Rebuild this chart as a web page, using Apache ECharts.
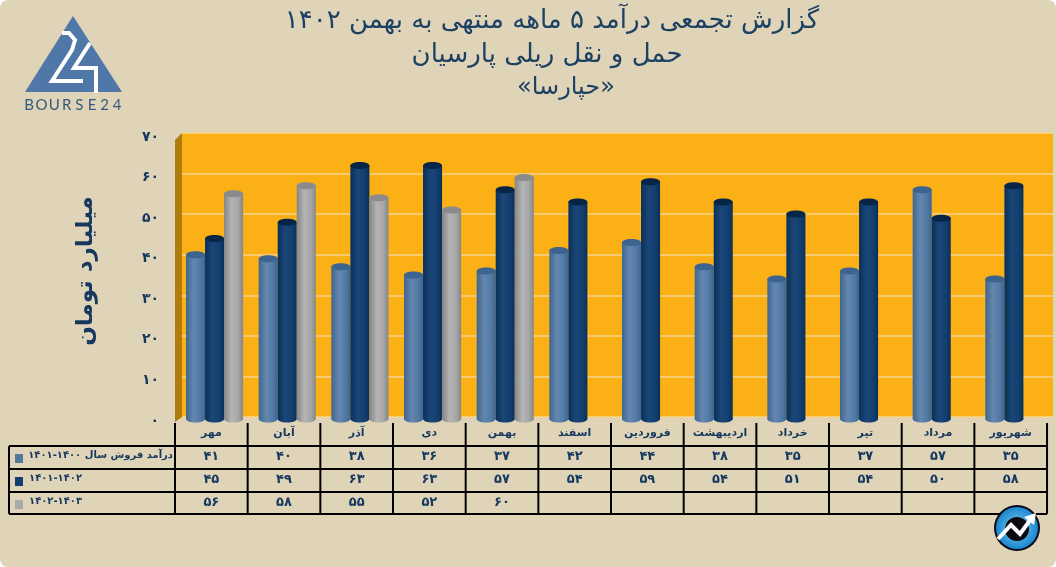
<!DOCTYPE html>
<html>
<head>
<meta charset="utf-8">
<script src="https://cdn.jsdelivr.net/npm/echarts@6/dist/echarts.min.js"></script>
<style>
  html, body { margin: 0; padding: 0; background: #fff; }
  #chart { width: 1056px; height: 567px; border-radius: 8px; overflow: hidden; }
</style>
</head>
<body>
<div id="chart"></div>
<script>
var months = ['مهر', 'آبان', 'آذر', 'دی', 'بهمن', 'اسفند', 'فروردین', 'اردیبهشت', 'خرداد', 'تیر', 'مرداد', 'شهریور']
var sales1400 = [41, 40, 38, 36, 37, 42, 44, 38, 35, 37, 57, 35]
var sales1401 = [45, 49, 63, 63, 57, 54, 59, 54, 51, 54, 50, 58]
var sales1402 = [56, 58, 55, 52, 60, null, null, null, null, null, null, null]
var rowLabels = ['درآمد فروش سال ۱۴۰۰-۱۴۰۱', '۱۴۰۱-۱۴۰۲', '۱۴۰۲-۱۴۰۳']
var titleLines = ['گزارش تجمعی درآمد ۵ ماهه منتهی به بهمن ۱۴۰۲', 'حمل و نقل ریلی پارسیان', '«حپارسا»']
var unitName = 'میلیارد تومان'
var logoLetters = ['B', 'O', 'U', 'R', 'S', 'E', '2', '4']

var FONT = '"DejaVu Sans"'
var TEXT = '#16385f'
var seriesRows = [sales1400, sales1401, sales1402]
var swatches = ['#54799f', '#123f6f', '#a9a9a9']

function fa(n) {
  return String(n).replace(/\d/g, function (d) { return '۰۱۲۳۴۵۶۷۸۹'[d] })
}

function tube(dark, mid, light) {
  return new echarts.graphic.LinearGradient(0, 0, 1, 0, [
    { offset: 0, color: dark },
    { offset: 0.4, color: light },
    { offset: 0.75, color: mid },
    { offset: 1, color: dark }
  ])
}

// cylinder drawn from the axis scale, slot = position inside the month band
function cylinder(slot, body, cap) {
  return function (params, api) {
    var v = api.value(1)
    if (isNaN(v)) return
    var base = api.coord([api.value(0), 0])
    var top = api.coord([api.value(0), v])
    var band = api.size([1, 0])[0]
    var w = band * 0.262
    var x = base[0] - band / 2 + 11 + slot * w
    var ry = 3.5
    return {
      type: 'group',
      children: [
        { type: 'ellipse', shape: { cx: x + w / 2, cy: base[1] - 2, rx: w / 2, ry: ry }, style: { fill: body } },
        { type: 'rect', shape: { x: x, y: top[1], width: w, height: base[1] - top[1] - 2 }, style: { fill: body } },
        { type: 'ellipse', shape: { cx: x + w / 2, cy: top[1], rx: w / 2, ry: ry }, style: { fill: cap } }
      ]
    }
  }
}

function barSeries(name, values, slot, body, cap) {
  return {
    name: name,
    type: 'custom',
    xAxisIndex: 0,
    yAxisIndex: 0,
    encode: { x: 0, y: 1 },
    data: values.map(function (v, i) { return [i, v == null ? NaN : v] }),
    renderItem: cylinder(slot, body, cap),
    z: 3
  }
}

// table under the plot, columns follow the month band
var tableLeft = 9, colStart = 175, colW = 72.67, rowTops = [446, 469, 492, 514], headTop = 423
var tableRight = colStart + colW * months.length
var table = []
function line(x1, y1, x2, y2) {
  table.push({ type: 'line', shape: { x1: x1, y1: y1, x2: x2, y2: y2 }, style: { stroke: '#000', lineWidth: 2 }, z: 5 })
}
rowTops.forEach(function (y) { line(tableLeft, y, tableRight, y) })
line(tableLeft, rowTops[0], tableLeft, rowTops[3])
for (var c = 0; c <= months.length; c++) {
  line(colStart + c * colW, headTop, colStart + c * colW, rowTops[3])
}
seriesRows.forEach(function (row, r) {
  var cy = rowTops[r] + 10
  table.push({ type: 'rect', shape: { x: 15, y: rowTops[r] + 8, width: 8, height: 9 }, style: { fill: swatches[r] }, z: 5 })
  table.push({
    type: 'text', z: 5,
    style: { x: r > 0 ? 82 : 173, y: cy - 1, text: rowLabels[r], font: 'bold 10px ' + FONT, fill: TEXT, align: 'right', verticalAlign: 'middle' }
  })
  row.forEach(function (v, i) {
    if (v == null) return
    table.push({
      type: 'text', z: 5,
      style: { x: colStart + (i + 0.5) * colW, y: cy + 1, text: fa(v), font: 'bold 13px ' + FONT, fill: TEXT, align: 'center', verticalAlign: 'middle' }
    })
  })
})

var titles = [
  { x: 552, y: 21, size: 26 },
  { x: 547, y: 55, size: 26 },
  { x: 566, y: 88, size: 24 }
].map(function (p, i) {
  return {
    type: 'text', z: 5,
    style: { x: p.x, y: p.y, text: titleLines[i], font: p.size + 'px ' + FONT, fill: '#1d4163', align: 'center', verticalAlign: 'middle' }
  }
})

// left side wall of the plot box
var sideWall = {
  type: 'polygon', z: 1,
  shape: { points: [[175, 140], [182, 133], [182, 417], [175, 422]] },
  style: { fill: '#b07d0a' }
}

// bourse24 logo
var logo = [
  { type: 'polygon', z: 5, shape: { points: [[73, 16], [25, 92], [122, 92]] }, style: { fill: '#4f78a8' } },
  { type: 'polyline', z: 6, shape: { points: [[62, 33], [69, 33], [75, 40], [72, 50], [52, 81], [83, 81]] }, style: { stroke: '#fff', lineWidth: 4, fill: 'none' } },
  { type: 'polyline', z: 6, shape: { points: [[90, 43], [74, 68], [96, 68], [96, 93]] }, style: { stroke: '#fff', lineWidth: 4, fill: 'none' } }
].concat(logoLetters.map(function (ch, i) {
  return {
    type: 'text', z: 5,
    style: { x: 29 + i * 12.6, y: 105, text: ch, font: '15px Lato', fill: '#33597f', align: 'center', verticalAlign: 'middle' }
  }
}))

// round badge, bottom right
var badge = [
  { type: 'circle', z: 7, shape: { cx: 1017, cy: 528, r: 23 }, style: { fill: '#0a0a14' } },
  {
    type: 'circle', z: 7, shape: { cx: 1017, cy: 528, r: 21 },
    style: { fill: new echarts.graphic.RadialGradient(0.5, 0.5, 0.5, [{ offset: 0, color: '#7fd0f5' }, { offset: 1, color: '#1a86cf' }]) }
  },
  { type: 'circle', z: 7, shape: { cx: 1017, cy: 529, r: 12 }, style: { fill: '#0b0b12' } },
  { type: 'polyline', z: 8, shape: { points: [[998, 539], [1011, 525], [1020, 534], [1031, 519]] }, style: { stroke: '#fff', lineWidth: 4, fill: 'none' } },
  { type: 'polygon', z: 8, shape: { points: [[1024, 517], [1036, 513], [1034, 525]] }, style: { fill: '#fff' } }
]

var chart = echarts.init(document.getElementById('chart'), null, { renderer: 'canvas' })
chart.setOption({
  animation: false,
  backgroundColor: '#dfd3b8',
  grid: [
    { left: 175, right: 9, top: 137, bottom: 146 },
    { left: 182, right: 3, top: 133, bottom: 150, show: true, backgroundColor: '#fbb116', borderWidth: 0 }
  ],
  xAxis: [
    {
      type: 'category', gridIndex: 0, data: months,
      axisLine: { show: false }, axisTick: { show: false },
      axisLabel: { color: TEXT, fontFamily: FONT, fontWeight: 'bold', fontSize: 11, margin: 7, interval: 0, hideOverlap: false }
    },
    { type: 'category', gridIndex: 1, data: months, show: false }
  ],
  yAxis: [
    {
      type: 'value', gridIndex: 0, min: 0, max: 70, interval: 10,
      name: unitName, nameLocation: 'middle', nameGap: 77, nameRotate: 90,
      nameTextStyle: { color: TEXT, fontFamily: FONT, fontWeight: 'bold', fontSize: 23, padding: [0, 0, 0, 16] },
      axisLine: { show: false }, axisTick: { show: false }, splitLine: { show: false },
      axisLabel: {
        color: TEXT, fontFamily: FONT, fontWeight: 'bold', fontSize: 14, margin: 16,
        formatter: function (v) { return fa(v) }
      }
    },
    {
      type: 'value', gridIndex: 1, min: 0, max: 70, interval: 10,
      axisLine: { show: false }, axisTick: { show: false }, axisLabel: { show: false },
      splitLine: { show: true, lineStyle: { color: '#f6d48e', width: 1.5 } }
    }
  ],
  graphic: { elements: [sideWall].concat(table, titles, logo, badge) },
  series: [
    barSeries('۱۴۰۰-۱۴۰۱', sales1400, 0, tube('#3f6590', '#507aa6', '#6587ae'), '#3d6490'),
    barSeries('۱۴۰۱-۱۴۰۲', sales1401, 1, tube('#0a2f58', '#123f6f', '#1a4778'), '#072647'),
    barSeries('۱۴۰۲-۱۴۰۳', sales1402, 2, tube('#858585', '#a6a6a6', '#b5b5b5'), '#8b8b8b')
  ]
})
</script>
</body>
</html>
